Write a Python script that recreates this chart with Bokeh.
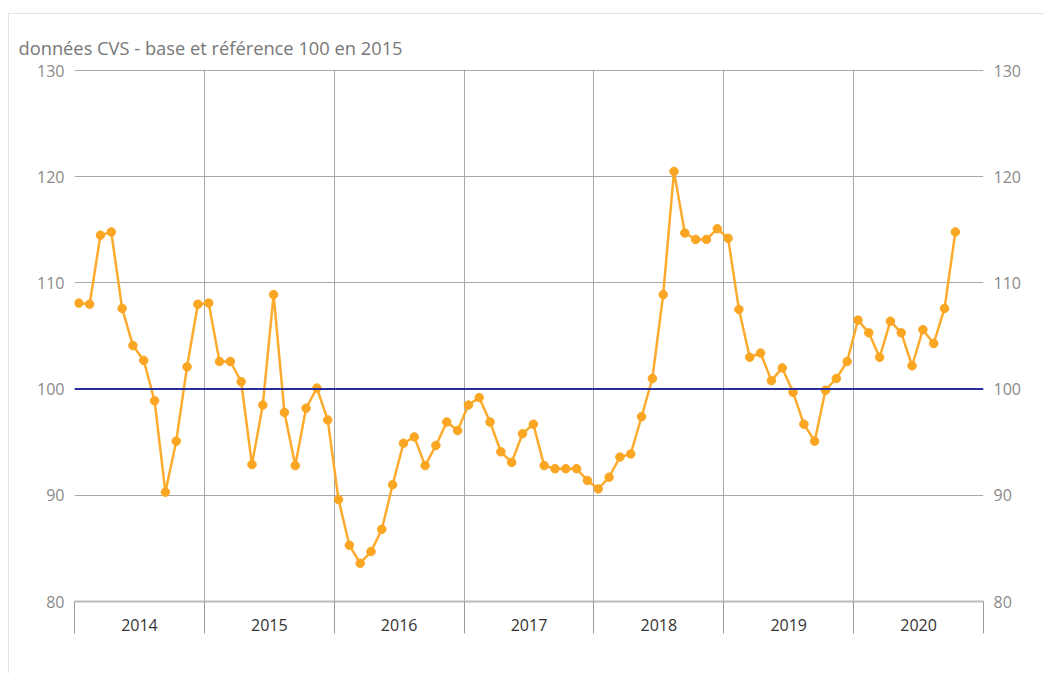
from bokeh.plotting import figure
from bokeh.models import (FixedTicker, LinearAxis, Range1d, Span, Title, Grid,
                          CustomJSTickFormatter, ColumnDataSource)
from bokeh.embed import file_html
from bokeh.resources import INLINE

# ---- data (monthly index, Jan 2014 -> Oct 2020) ----
years = [2014, 2015, 2016, 2017, 2018, 2019, 2020]
v2014 = [108.1, 108.0, 114.5, 114.8, 107.6, 104.1, 102.7, 98.9, 90.3, 95.1, 102.1, 108.0]
v2015 = [108.1, 102.6, 102.6, 100.7, 92.9, 98.5, 108.9, 97.8, 92.8, 98.2, 100.1, 97.1]
v2016 = [89.6, 85.3, 83.6, 84.7, 86.8, 91.0, 94.9, 95.5, 92.8, 94.7, 96.9, 96.1]
v2017 = [98.5, 99.2, 96.9, 94.1, 93.1, 95.8, 96.7, 92.8, 92.5, 92.5, 92.5, 91.4]
v2018 = [90.6, 91.7, 93.6, 93.9, 97.4, 101.0, 108.9, 120.5, 114.7, 114.1, 114.1, 115.1]
v2019 = [114.2, 107.5, 103.0, 103.4, 100.8, 102.0, 99.7, 96.7, 95.1, 99.9, 101.0, 102.6]
v2020 = [106.5, 105.3, 103.0, 106.4, 105.3, 102.2, 105.6, 104.3, 107.6, 114.8]
series = [v2014, v2015, v2016, v2017, v2018, v2019, v2020]
reference_level = 100
y_ticks = [80, 90, 100, 110, 120, 130]
subtitle = "données CVS - base et référence 100 en 2015"

xs, ys = [], []
for yr, vals in zip(years, series):
    for m, v in enumerate(vals):
        xs.append(yr + (m + 0.4) / 12.0)
        ys.append(v)
src = ColumnDataSource(dict(x=xs, y=ys))

FONT = "Open Sans"

p = figure(width=1036, height=660, output_backend="svg", toolbar_location=None,
           x_range=Range1d(years[0], years[-1] + 1), y_range=Range1d(80, 130.1),
           min_border_left=65, min_border_right=62, min_border_top=55,
           min_border_bottom=73, x_axis_type=None, y_axis_type=None,
           styles={"margin-left": "8px", "margin-top": "13px",
                   "border-left": "1px solid #e3e3e3",
                   "border-top": "1px solid #e3e3e3"})
p.outline_line_color = None
p.background_fill_color = "white"
p.border_fill_color = "white"

# subtitle
p.add_layout(Title(text=subtitle, align="left", offset=-56, standoff=20,
                   text_font=FONT, text_font_size="18.3px",
                   text_font_style="normal", text_color="#777777"), "above")

# x axis: year boundaries as long minor ticks, labels centered
xt = FixedTicker(ticks=[y + 0.5 for y in years],
                 minor_ticks=[y for y in years] + [years[-1] + 1])
xax = LinearAxis(ticker=xt)
xax.formatter = CustomJSTickFormatter(code="return Math.floor(tick).toString();")
xax.major_tick_out = 0
xax.major_tick_in = 0
xax.minor_tick_out = 32
xax.minor_tick_in = 0
xax.minor_tick_line_color = "#999999"
xax.axis_line_color = "#bbbbbb"
xax.axis_line_width = 2
xax.major_label_standoff = -15
xax.major_label_text_font = FONT
xax.major_label_text_font_size = "16px"
xax.major_label_text_color = "#333333"
p.add_layout(xax, "below")

for side, so in (("left", 4), ("right", 4)):
    ax = LinearAxis(ticker=FixedTicker(ticks=y_ticks))
    ax.axis_line_color = None
    ax.major_tick_line_color = None
    ax.minor_tick_line_color = None
    ax.major_label_standoff = so
    ax.major_label_text_font = FONT
    ax.major_label_text_font_size = "16px"
    ax.major_label_text_color = "#8a8a8a"
    p.add_layout(ax, side)

p.add_layout(Grid(dimension=0, ticker=FixedTicker(ticks=years + [years[-1] + 1]),
                  grid_line_color="#a8a8a8", grid_line_width=1))
p.add_layout(Grid(dimension=1, ticker=FixedTicker(ticks=y_ticks[1:]),
                  grid_line_color="#a8a8a8", grid_line_width=1))

p.add_layout(Span(location=reference_level, dimension="width",
                  line_color="#2a2d9c", line_width=2))

p.line("x", "y", source=src, line_color="#fcab2e", line_width=2.5)
p.scatter("x", "y", source=src, size=8.5, fill_color="#fba622",
          line_color="#fba622")

open("out.html", "w").write(file_html(p, INLINE))
